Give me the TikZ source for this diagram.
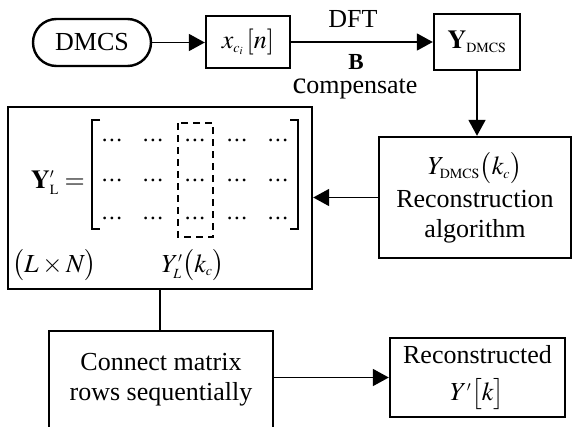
\documentclass[tikz,border=0pt]{standalone}
\usepackage{mathptmx}
\usepackage[no-math]{fontspec}
\setmainfont{Liberation Serif}
\usetikzlibrary{arrows.meta}
\DeclareMathSizes{26}{26}{14}{11}
\newcommand\mainfs{\fontsize{26}{30}\selectfont}
\newcommand\rowdots{.\kern1.6pt.\kern1.6pt.}
\tikzset{
  blk/.style={draw, line width=2.4pt, inner sep=0pt, align=center, font=\mainfs},
  arr/.style={line width=1.8pt, -{Triangle[length=16pt,width=17pt]}},
  link/.style={line width=1.8pt},
  txt/.style={inner sep=0pt, font=\mainfs},
  dotcell/.style={inner sep=0pt, anchor=base, font=\fontsize{23}{24}\selectfont},
}
\begin{document}
\begin{tikzpicture}[x=1pt,y=-1pt]
\useasboundingbox (0,0) rectangle (572,426);

% top row: source, time signal, spectrum
\node[blk, rounded corners=23.5pt, minimum width=118pt, minimum height=47pt] (dmcs) at (92,42.5) {DMCS};
\node[blk, minimum width=84pt, minimum height=52pt] (xs) at (248,42) {$x_{c_{i}}\,[n]$};
\node[blk, minimum width=86pt, minimum height=56pt] (yd) at (477,42) {$\mathbf{Y}_{\mathrm{DMCS}}$};

\node[txt, anchor=base] (dft) at (353,27) {DFT};
\node[inner sep=0pt, anchor=base, font=\fontsize{23}{24}\selectfont\bfseries] (bm) at (356,69) {B};
\node[txt, anchor=base] (comp) at (355,93) {{\fontsize{31}{31}\selectfont c}ompensate};

% reconstruction step
\node[blk, minimum width=192pt, minimum height=121pt] (rec) at (475,197.5)
  {$Y_{\mathrm{DMCS}}\bigl(k_{c}\bigr)$\\[3pt]Reconstruction\\algorithm};

% matrix block
\node[blk, minimum width=304pt, minimum height=182pt] (mat) at (160,198) {};
\node[txt, anchor=base] (lhs) at (58,188) {$\mathbf{Y}'_{\mathrm{L}}=$};
\draw[line width=1.3pt] (100,120) -| (92,229) -- (100,229);
\draw[line width=1.3pt] (290,120) -| (298,229) -- (290,229);
\foreach \c [count=\i] in {112,153,195,237,278}
  \foreach \r [count=\j] in {140,180,218}
    \node[dotcell] (m\j\i) at (\c,\r+1.5) {\rowdots};
\draw[line width=2.4pt, dash pattern=on 7pt off 5pt] (178,123) rectangle (213,237);
\node[txt, anchor=base west] (dim) at (12,272) {$\bigl(L\times N\bigr)$};
\node[txt, anchor=base] (col) at (193,272) {$Y'_{L}\bigl(k_{c}\bigr)$};

% bottom row
\node[blk, minimum width=224pt, minimum height=97pt] (conn) at (161,379.5) {Connect matrix\\rows sequentially};
\node[blk, minimum width=175pt, minimum height=79pt] (out) at (477.5,377.5) {Reconstructed\\[7pt]$Y'\bigl[k\bigr]$};

% connectors
\draw[arr] (dmcs.east) -- (dmcs.east -| xs.west);
\draw[arr] (xs.east) -- (xs.east -| yd.west);
\draw[arr] (yd.south) -- (yd.south |- rec.north);
\draw[arr] (rec.west) -- (rec.west -| mat.east);
\draw[link] (mat.south) -- (mat.south |- conn.north);
\draw[arr] (conn.east |- out.west) -- (out.west);
\end{tikzpicture}
\end{document}
